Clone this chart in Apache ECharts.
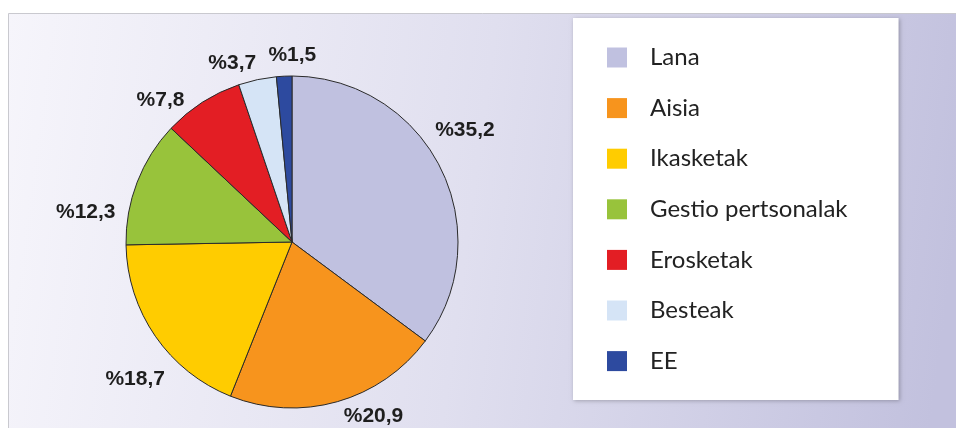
<!DOCTYPE html>
<html>
<head>
<meta charset="utf-8">
<script src="https://cdn.jsdelivr.net/npm/echarts@6/dist/echarts.min.js"></script>
<style>html,body{margin:0;padding:0;background:#fff;}#c{width:956px;height:428px;}</style>
</head>
<body>
<div id="c"></div>
<script>
const categories = ['Lana', 'Aisia', 'Ikasketak', 'Gestio pertsonalak', 'Erosketak', 'Besteak', 'EE'];
const values = [35.2, 20.9, 18.7, 12.3, 7.8, 3.7, 1.5];
const colors = ['#c0c1e0', '#f7941d', '#ffcc00', '#98c33b', '#e31e24', '#d5e4f6', '#2d4a9f'];

const chart = echarts.init(document.getElementById('c'), null, {renderer: 'canvas'});
// small layout nudges for the outside labels (dx, dy)
const labelNudge = {0: [-28, -28], 1: [-4, -5], 2: [31, 32], 3: [2, 37], 4: [-2, 15], 5: [8, 3], 6: [38, -1]};

chart.setOption({
  animation: false,
  backgroundColor: '#ffffff',
  graphic: [{
    type: 'rect', z: -10, silent: true,
    shape: {x: 8.5, y: 13.5, width: 960, height: 430},
    style: {
      fill: new echarts.graphic.LinearGradient(0, 0, 1, 0.3, [
        {offset: 0, color: '#f6f5fb'},
        {offset: 0.5, color: '#e0dfef'},
        {offset: 1, color: '#c2c1de'}
      ]),
      stroke: '#c9c9cf', lineWidth: 1
    }
  }],
  legend: {
    orient: 'vertical',
    left: 573, top: 18,
    padding: [27.5, 51, 27, 34],
    backgroundColor: '#ffffff',
    shadowColor: 'rgba(0,0,0,0.25)', shadowBlur: 4, shadowOffsetX: 1, shadowOffsetY: 1,
    itemWidth: 20, itemHeight: 20, itemGap: 26.6,
    icon: 'rect',
    itemStyle: {borderWidth: 0},
    data: categories,
    textStyle: {fontFamily: 'Lato', fontSize: 24, lineHeight: 24, color: '#222', padding: [0, 0, 0, 18]}
  },
  series: [{
    type: 'pie',
    center: [292, 242],
    radius: 166,
    startAngle: 90,
    clockwise: true,
    avoidLabelOverlap: false,
    color: colors,
    itemStyle: {borderColor: '#2a2a2a', borderWidth: 1},
    label: {
      show: true, position: 'outside',
      formatter: p => '%' + String(p.value).replace('.', ','),
      fontFamily: 'Liberation Sans', fontWeight: 'bold', fontSize: 21, color: '#1e1e1e'
    },
    labelLine: {show: false, length: 20, length2: 0},
    labelLayout: p => ({dx: labelNudge[p.dataIndex][0], dy: labelNudge[p.dataIndex][1]}),
    emphasis: {disabled: true},
    data: categories.map((c, i) => ({name: c, value: values[i]}))
  }]
});
</script>
</body>
</html>
